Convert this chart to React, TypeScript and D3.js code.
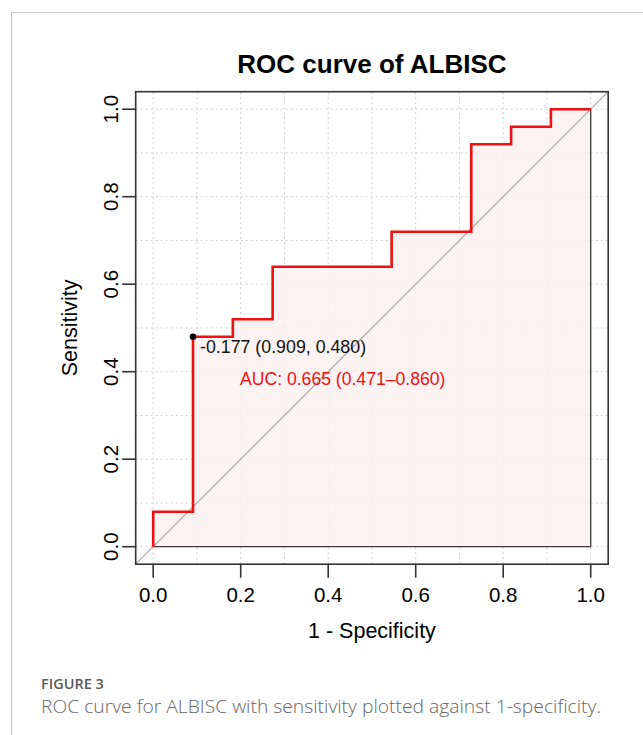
import React, { useEffect, useRef } from "react";
import * as d3 from "d3";

// ROC points (1 - specificity, sensitivity)
const fpr = [0, 0, 0.091, 0.091, 0.182, 0.182, 0.273, 0.273, 0.545, 0.545, 0.727, 0.727, 0.818, 0.818, 0.909, 0.909, 1.0];
const tpr = [0, 0.08, 0.08, 0.48, 0.48, 0.52, 0.52, 0.64, 0.64, 0.72, 0.72, 0.92, 0.92, 0.96, 0.96, 1.0, 1.0];
const ticks = [0, 0.2, 0.4, 0.6, 0.8, 1.0];
const gridVals = [0, 0.1, 0.2, 0.3, 0.4, 0.5, 0.6, 0.7, 0.8, 0.9, 1.0];
const bestPoint = { fpr: 0.091, tpr: 0.48, label: "-0.177 (0.909, 0.480)" };
const aucLabel = "AUC: 0.665 (0.471\u20130.860)";

const W = 643;
const H = 735;

const App = () => {
  const ref = useRef<SVGSVGElement>(null);

  useEffect(() => {
    const svg = d3.select(ref.current);
    svg.selectAll("*").remove();

    const font = "'Liberation Sans', Arial, sans-serif";

    // R pads the axis range by 4%
    const x = d3.scaleLinear().domain([-0.04, 1.04]).range([135.7, 608.2]);
    const y = d3.scaleLinear().domain([-0.04, 1.04]).range([564.2, 91.7]);

    // figure frame
    svg.append("path")
      .attr("d", `M11.5,735 V12.5 H643`)
      .attr("fill", "none")
      .attr("stroke", "#c8c8c8")
      .attr("stroke-width", 1.2);

    // title
    svg.append("text")
      .attr("x", (x(-0.04) + x(1.04)) / 2)
      .attr("y", 73)
      .attr("text-anchor", "middle")
      .style("font-family", font)
      .style("font-weight", "bold")
      .style("font-size", "26px")
      .text("ROC curve of ALBISC");

    // grid
    const grid = svg.append("g")
      .attr("stroke", "#cfcfcf")
      .attr("stroke-width", 1)
      .attr("stroke-dasharray", "2,3");
    gridVals.forEach((v) => {
      grid.append("line")
        .attr("x1", x(v)).attr("x2", x(v))
        .attr("y1", y(-0.04)).attr("y2", y(1.04));
      grid.append("line")
        .attr("x1", x(-0.04)).attr("x2", x(1.04))
        .attr("y1", y(v)).attr("y2", y(v));
    });

    // AUC polygon
    const poly = fpr.map((f, i) => [x(f), y(tpr[i])] as [number, number]);
    poly.push([x(1), y(0)]);
    svg.append("path")
      .attr("d", d3.line()(poly) + "Z")
      .attr("fill", "#fdf1f1")
      .attr("fill-opacity", 0.85)
      .attr("stroke", "#3a3a3a")
      .attr("stroke-width", 1.3);

    // diagonal reference line across the box
    svg.append("line")
      .attr("x1", x(-0.04)).attr("y1", y(-0.04))
      .attr("x2", x(1.04)).attr("y2", y(1.04))
      .attr("stroke", "#a8a8a8")
      .attr("stroke-width", 1.2);

    // ROC curve
    const line = d3.line<number>()
      .x((d) => x(d))
      .y((d, i) => y(tpr[i]));
    svg.append("path")
      .attr("d", line(fpr))
      .attr("fill", "none")
      .attr("stroke", "#ee1111")
      .attr("stroke-width", 2.6)
      .attr("stroke-linejoin", "miter");

    // best threshold
    svg.append("circle")
      .attr("cx", x(bestPoint.fpr))
      .attr("cy", y(bestPoint.tpr))
      .attr("r", 3.3)
      .attr("fill", "#000");
    svg.append("text")
      .attr("x", 200)
      .attr("y", 353)
      .style("font-family", font)
      .style("font-size", "17.8px")
      .attr("fill", "#111")
      .text(bestPoint.label);
    svg.append("text")
      .attr("x", 240)
      .attr("y", 384.5)
      .style("font-family", font)
      .style("font-size", "17.6px")
      .attr("fill", "#ee1111")
      .text(aucLabel);

    // box
    svg.append("rect")
      .attr("x", x(-0.04)).attr("y", y(1.04))
      .attr("width", x(1.04) - x(-0.04))
      .attr("height", y(-0.04) - y(1.04))
      .attr("fill", "none")
      .attr("stroke", "#333")
      .attr("stroke-width", 1.6);

    // x axis
    const xa = svg.append("g");
    ticks.forEach((t) => {
      xa.append("line")
        .attr("x1", x(t)).attr("x2", x(t))
        .attr("y1", y(-0.04)).attr("y2", y(-0.04) + 13.5)
        .attr("stroke", "#333").attr("stroke-width", 1.6);
      xa.append("text")
        .attr("x", x(t)).attr("y", 602)
        .attr("text-anchor", "middle")
        .style("font-family", font)
        .style("font-size", "20.5px")
        .text(d3.format(".1f")(t));
    });
    svg.append("text")
      .attr("x", x(0.5)).attr("y", 637.5)
      .attr("text-anchor", "middle")
      .style("font-family", font)
      .style("font-size", "21.5px")
      .text("1 - Specificity");

    // y axis
    const ya = svg.append("g");
    ticks.forEach((t) => {
      ya.append("line")
        .attr("x1", x(-0.04) - 13.5).attr("x2", x(-0.04))
        .attr("y1", y(t)).attr("y2", y(t))
        .attr("stroke", "#333").attr("stroke-width", 1.6);
      ya.append("text")
        .attr("transform", `translate(118,${y(t)}) rotate(-90)`)
        .attr("text-anchor", "middle")
        .style("font-family", font)
        .style("font-size", "20.5px")
        .text(d3.format(".1f")(t));
    });
    svg.append("text")
      .attr("transform", `translate(77,${y(0.5)}) rotate(-90)`)
      .attr("text-anchor", "middle")
      .style("font-family", font)
      .style("font-size", "21.5px")
      .text("Sensitivity");

    // caption
    svg.append("text")
      .attr("x", 41).attr("y", 688.5)
      .style("font-family", "'Open Sans', sans-serif")
      .style("font-weight", 600)
      .style("font-size", "14.5px")
      .attr("fill", "#5a5a5a")
      .text("FIGURE 3");
    svg.append("text")
      .attr("x", 41).attr("y", 712.5)
      .style("font-family", "'Open Sans', sans-serif")
      .style("font-weight", 300)
      .style("font-size", "18px")
      .attr("fill", "#666")
      .attr("textLength", 560)
      .attr("lengthAdjust", "spacingAndGlyphs")
      .text("ROC curve for ALBISC with sensitivity plotted against 1-specificity.");
  }, []);

  return (
    <svg
      ref={ref}
      width={W}
      height={H}
      style={{ position: "absolute", left: 0, top: 0, background: "#fff" }}
    ></svg>
  );
};

export default App;
